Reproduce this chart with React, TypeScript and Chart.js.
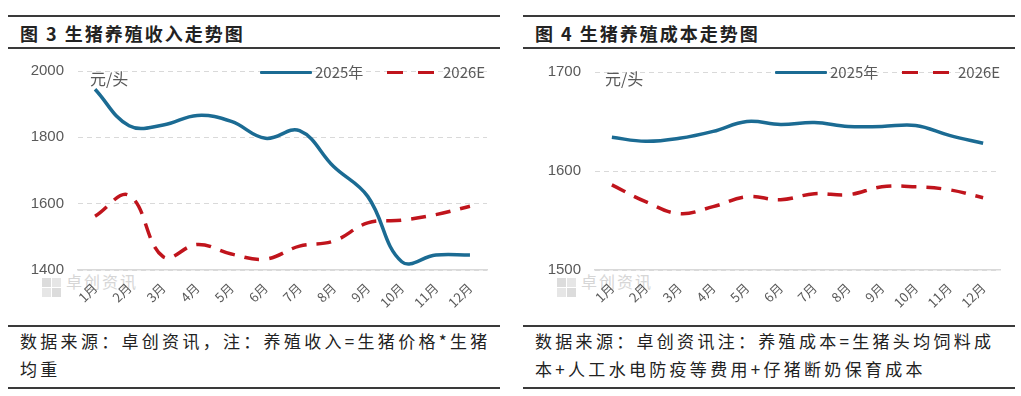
import React, { useEffect, useRef } from "react";
import { Chart, registerables } from "chart.js";

Chart.register(...registerables);

const months = ["1月", "2月", "3月", "4月", "5月", "6月", "7月", "8月", "9月", "10月", "11月", "12月"];
const income2025 = [1945, 1835, 1837, 1866, 1848, 1797, 1820, 1712, 1622, 1425, 1445, 1445];
const income2026 = [1562, 1625, 1440, 1477, 1448, 1433, 1472, 1487, 1542, 1550, 1567, 1592];
const cost2025 = [1634, 1630, 1633, 1640, 1650, 1647, 1649, 1645, 1645, 1646, 1636, 1628];
const cost2026 = [1586, 1569, 1557, 1564, 1574, 1571, 1577, 1576, 1584, 1584, 1581, 1573];
const incomeAxis = { min: 1400, max: 2000, step: 200 };
const costAxis = { min: 1500, max: 1700, step: 100 };
const seriesNames = ["2025年", "2026E"];
const unitLabel = "元/头";

const BLUE = "#1b6b93";
const RED = "#c0141c";
const GRAY_TEXT = "#595959";
const GRID = "#d9d9d9";
const CJK = '"Noto Sans CJK SC", "Noto Sans", sans-serif';
const LATIN = '"Liberation Sans", Arial, sans-serif';

type ChartProps = {
  left: number;
  top: number;
  width: number;
  height: number;
  yWidth: number;
  xHeight: number;
  padRight: number;
  axis: { min: number; max: number; step: number };
  a: number[];
  b: number[];
};

function LineChart(p: ChartProps) {
  const ref = useRef<HTMLCanvasElement>(null);
  useEffect(() => {
    const chart = new Chart(ref.current!, {
      type: "line",
      data: {
        labels: months,
        datasets: [
          {
            label: seriesNames[0],
            data: p.a,
            borderColor: BLUE,
            borderWidth: 3.5,
            pointRadius: 0,
            tension: 0.4,
            fill: false,
          },
          {
            label: seriesNames[1],
            data: p.b,
            borderColor: RED,
            borderWidth: 3.5,
            borderDash: [15, 10],
            pointRadius: 0,
            tension: 0.4,
            fill: false,
          },
        ],
      },
      options: {
        animation: false,
        responsive: false,
        maintainAspectRatio: false,
        layout: { padding: { top: 0, right: p.padRight, left: 0, bottom: 0 } },
        plugins: { legend: { display: false }, tooltip: { enabled: false } },
        scales: {
          x: {
            offset: true,
            grid: { display: false, drawTicks: false },
            border: { display: true, color: GRID, width: 1.5 },
            ticks: {
              minRotation: 45,
              maxRotation: 45,
              padding: 10,
              color: GRAY_TEXT,
              font: { family: CJK, size: 13 },
            },
            afterFit: (s: any) => {
              s.height = p.xHeight;
            },
          },
          y: {
            min: p.axis.min,
            max: p.axis.max,
            ticks: {
              stepSize: p.axis.step,
              padding: 14,
              color: GRAY_TEXT,
              font: { family: LATIN, size: 15 },
              callback: (v: any) => String(v),
            },
            grid: { color: GRID, drawTicks: false, lineWidth: 1 },
            border: { display: false, dash: [5, 4] },
            afterFit: (s: any) => {
              s.width = p.yWidth;
            },
          },
        },
      },
    } as any);
    return () => chart.destroy();
  }, []);
  return (
    <canvas
      ref={ref}
      width={p.width}
      height={p.height}
      style={{ position: "absolute", left: p.left, top: p.top, width: p.width, height: p.height }}
    />
  );
}

function Rule({ left, top, width }: { left: number; top: number; width: number }) {
  return <div style={{ position: "absolute", left, top, width, height: 2, background: "#3a3a3a" }} />;
}

function Legend({ left, top }: { left: number; top: number }) {
  const txt: React.CSSProperties = {
    position: "absolute",
    top: top - 10,
    fontFamily: CJK,
    fontSize: 15,
    lineHeight: "20px",
    color: GRAY_TEXT,
    whiteSpace: "nowrap",
  };
  return (
    <>
      <div style={{ position: "absolute", left, top: top - 1.5, width: 52, height: 3.5, background: BLUE, borderRadius: 1 }} />
      <div style={{ ...txt, left: left + 55 }}>{seriesNames[0]}</div>
      <div style={{ position: "absolute", left: left + 127, top: top - 1.5, width: 16, height: 3.5, background: RED }} />
      <div style={{ position: "absolute", left: left + 158, top: top - 1.5, width: 16, height: 3.5, background: RED }} />
      <div style={{ ...txt, left: left + 183 }}>{seriesNames[1]}</div>
    </>
  );
}

function Watermark({ left, top }: { left: number; top: number }) {
  return (
    <>
      <div style={{ position: "absolute", left, top, width: 9, height: 9, background: "#dcdcdc" }} />
      <div style={{ position: "absolute", left: left + 10, top, width: 9, height: 9, background: "#e6e6e6" }} />
      <div style={{ position: "absolute", left, top: top + 10, width: 9, height: 9, background: "#e6e6e6" }} />
      <div style={{ position: "absolute", left: left + 10, top: top + 10, width: 9, height: 9, background: "#dcdcdc" }} />
      <div
        style={{
          position: "absolute",
          left: left + 24,
          top: top - 7,
          fontFamily: CJK,
          fontSize: 16,
          lineHeight: "20px",
          color: "#d6d6d6",
          letterSpacing: 2,
          whiteSpace: "nowrap",
        }}
      >
        卓创资讯
      </div>
    </>
  );
}

function Panel(props: {
  x: number;
  w: number;
  title: string;
  notes: string[];
  chartLeft: number;
  chartTop: number;
  yWidth: number;
  padRight: number;
  axis: { min: number; max: number; step: number };
  a: number[];
  b: number[];
  legendLeft: number;
  unitLeft: number;
}) {
  const { x, w } = props;
  return (
    <>
      <Rule left={x} top={15} width={w} />
      <div
        style={{
          position: "absolute",
          left: x + 12,
          top: 21,
          fontFamily: CJK,
          fontWeight: 700,
          fontSize: 18,
          lineHeight: "24px",
          letterSpacing: 2,
          color: "#222",
          whiteSpace: "nowrap",
        }}
      >
        {props.title}
      </div>
      <Rule left={x} top={47} width={w} />
      <Watermark left={x + 34} top={278} />
      <LineChart
        left={props.chartLeft}
        top={props.chartTop}
        width={490}
        height={270 - props.chartTop + 50}
        yWidth={props.yWidth}
        xHeight={50}
        padRight={props.padRight}
        axis={props.axis}
        a={props.a}
        b={props.b}
      />
      <div
        style={{
          position: "absolute",
          left: props.unitLeft,
          top: 67,
          fontFamily: CJK,
          fontSize: 16,
          lineHeight: "22px",
          color: GRAY_TEXT,
          whiteSpace: "nowrap",
        }}
      >
        {unitLabel}
      </div>
      <Legend left={props.legendLeft} top={72} />
      <Rule left={x} top={325} width={w} />
      {props.notes.map((n, i) => (
        <div
          key={i}
          style={{
            position: "absolute",
            left: x + 12,
            top: 329 + i * 28,
            fontFamily: CJK,
            fontSize: 17,
            lineHeight: "24px",
            letterSpacing: 3.3,
            color: "#222",
            whiteSpace: "nowrap",
          }}
        >
          {n}
        </div>
      ))}
      <Rule left={x} top={387} width={w} />
    </>
  );
}

export default function App() {
  return (
    <div style={{ position: "absolute", left: 0, top: 0, width: 1021, height: 396, background: "#fff", overflow: "hidden" }}>
      <Panel
        x={8}
        w={492}
        title="图 3 生猪养殖收入走势图"
        notes={["数据来源：卓创资讯，注：养殖收入=生猪价格*生猪", "均重"]}
        chartLeft={10}
        chartTop={48}
        yWidth={68}
        padRight={13}
        axis={incomeAxis}
        a={income2025}
        b={income2026}
        legendLeft={260}
        unitLeft={90}
      />
      <Panel
        x={523}
        w={492}
        title="图 4 生猪养殖成本走势图"
        notes={["数据来源：卓创资讯注：养殖成本=生猪头均饲料成", "本+人工水电防疫等费用+仔猪断奶保育成本"]}
        chartLeft={525}
        chartTop={49}
        yWidth={70}
        padRight={15}
        axis={costAxis}
        a={cost2025}
        b={cost2026}
        legendLeft={775}
        unitLeft={605}
      />
    </div>
  );
}
